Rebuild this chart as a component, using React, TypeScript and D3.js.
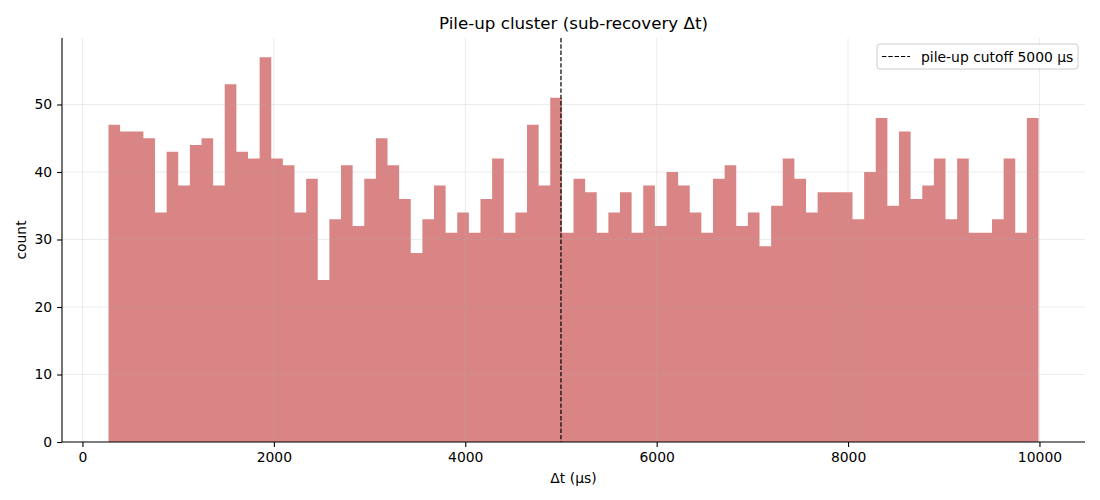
import { useEffect, useRef } from "react"
import * as d3 from "d3"

// histogram of sub-recovery Δt, 80 equal bins between the data min and max
const binStart = 272
const binEnd = 9990
const counts = [
  47, 46, 46, 45, 34, 43, 38, 44, 45, 38, 53, 43, 42, 57, 42, 41, 34, 39, 24, 33,
  41, 32, 39, 45, 41, 36, 28, 33, 38, 31, 34, 31, 36, 42, 31, 34, 47, 38, 51, 31,
  39, 37, 31, 34, 37, 31, 38, 32, 40, 38, 34, 31, 39, 41, 32, 34, 29, 35, 42, 39,
  34, 37, 37, 37, 33, 40, 48, 35, 46, 36, 38, 42, 33, 42, 31, 31, 33, 42, 31, 48,
]
const cutoff = 5000
const xTicks = [0, 2000, 4000, 6000, 8000, 10000]
const yTicks = [0, 10, 20, 30, 40, 50]
const title = "Pile-up cluster (sub-recovery Δt)"
const xLabel = "Δt (µs)"
const yLabel = "count"
const legendLabel = "pile-up cutoff 5000 µs"

export default function App() {
  const svgRef = useRef<SVGSVGElement>(null)

  useEffect(() => {
    if (!svgRef.current) return
    document.body.style.margin = "0"

    const svg = d3.select(svgRef.current)
    svg.selectAll("*").remove()

    const width = 1100
    const height = 500
    const margin = { top: 38, right: 15, bottom: 58, left: 62 }
    const innerWidth = width - margin.left - margin.right
    const innerHeight = height - margin.top - margin.bottom
    const font = "DejaVu Sans, sans-serif"

    const n = counts.length
    const step = (binEnd - binStart) / n
    const edges = d3.range(n + 1).map((i) => binStart + i * step)

    const pad = (binEnd - binStart) * 0.05
    const x = d3.scaleLinear().domain([binStart - pad, binEnd + pad]).range([0, innerWidth])
    const y = d3
      .scaleLinear()
      .domain([0, (d3.max(counts) || 0) * 1.05])
      .range([innerHeight, 0])

    const g = svg.append("g").attr("transform", `translate(${margin.left},${margin.top})`)

    // bars as one stepped area so adjacent bins have no seams
    const pts = edges.map((e, i) => ({ x: e, c: counts[Math.min(i, n - 1)] }))
    const area = d3
      .area<{ x: number; c: number }>()
      .x((d) => x(d.x))
      .y0(y(0))
      .y1((d) => y(d.c))
      .curve(d3.curveStepAfter)

    g.append("path").datum(pts).attr("d", area).attr("fill", "#cd5c5c").attr("fill-opacity", 0.75)

    // grid
    const grid = g.append("g").attr("stroke", "#b0b0b0").attr("stroke-opacity", 0.3).attr("stroke-width", 0.8)
    grid
      .selectAll("line.vx")
      .data(xTicks)
      .join("line")
      .attr("x1", (d) => x(d))
      .attr("x2", (d) => x(d))
      .attr("y1", 0)
      .attr("y2", innerHeight)
    grid
      .selectAll("line.hy")
      .data(yTicks)
      .join("line")
      .attr("x1", 0)
      .attr("x2", innerWidth)
      .attr("y1", (d) => y(d))
      .attr("y2", (d) => y(d))

    // cutoff line
    g.append("line")
      .attr("x1", x(cutoff))
      .attr("x2", x(cutoff))
      .attr("y1", 0)
      .attr("y2", innerHeight)
      .attr("stroke", "black")
      .attr("stroke-width", 1.2)
      .attr("stroke-dasharray", "4.4,1.9")

    // axes
    const xAxis = g
      .append("g")
      .attr("transform", `translate(0,${innerHeight})`)
      .call(
        d3.axisBottom(x).tickValues(xTicks).tickFormat(d3.format("d")).tickSizeOuter(0).tickSize(4.9).tickPadding(4.9)
      )
    const yAxis = g
      .append("g")
      .call(d3.axisLeft(y).tickValues(yTicks).tickFormat(d3.format("d")).tickSizeOuter(0).tickSize(4.9).tickPadding(4.9))

    for (const ax of [xAxis, yAxis]) {
      ax.select(".domain").attr("stroke", "black").attr("stroke-width", 1.1)
      ax.selectAll(".tick line").attr("stroke", "black").attr("stroke-width", 1.1)
      ax.selectAll(".tick text").attr("font-family", font).attr("font-size", "13.9px").attr("fill", "black")
    }
    xAxis.select(".domain").attr("d", `M0,0H${innerWidth}`)
    yAxis.select(".domain").attr("d", `M0,${innerHeight}V0`)

    // title + labels
    svg
      .append("text")
      .attr("x", margin.left + innerWidth / 2)
      .attr("y", 29)
      .attr("text-anchor", "middle")
      .attr("font-family", font)
      .attr("font-size", "16.7px")
      .text(title)

    svg
      .append("text")
      .attr("x", margin.left + innerWidth / 2)
      .attr("y", 483)
      .attr("text-anchor", "middle")
      .attr("font-family", font)
      .attr("font-size", "13.9px")
      .text(xLabel)

    svg
      .append("text")
      .attr("transform", `translate(26,${margin.top + innerHeight / 2}) rotate(-90)`)
      .attr("text-anchor", "middle")
      .attr("font-family", font)
      .attr("font-size", "13.9px")
      .text(yLabel)

    // legend
    const lg = svg.append("g").attr("transform", "translate(877,44)")
    lg.append("rect")
      .attr("width", 201)
      .attr("height", 25)
      .attr("rx", 3)
      .attr("fill", "white")
      .attr("fill-opacity", 0.8)
      .attr("stroke", "#cccccc")
      .attr("stroke-width", 1)
    lg.append("line")
      .attr("x1", 5)
      .attr("x2", 33)
      .attr("y1", 12.5)
      .attr("y2", 12.5)
      .attr("stroke", "black")
      .attr("stroke-width", 1.2)
      .attr("stroke-dasharray", "4.4,1.9")
    lg.append("text")
      .attr("x", 44)
      .attr("y", 17.5)
      .attr("font-family", font)
      .attr("font-size", "13.9px")
      .text(legendLabel)
  }, [])

  return <svg ref={svgRef} width={1100} height={500} style={{ display: "block" }} />
}
